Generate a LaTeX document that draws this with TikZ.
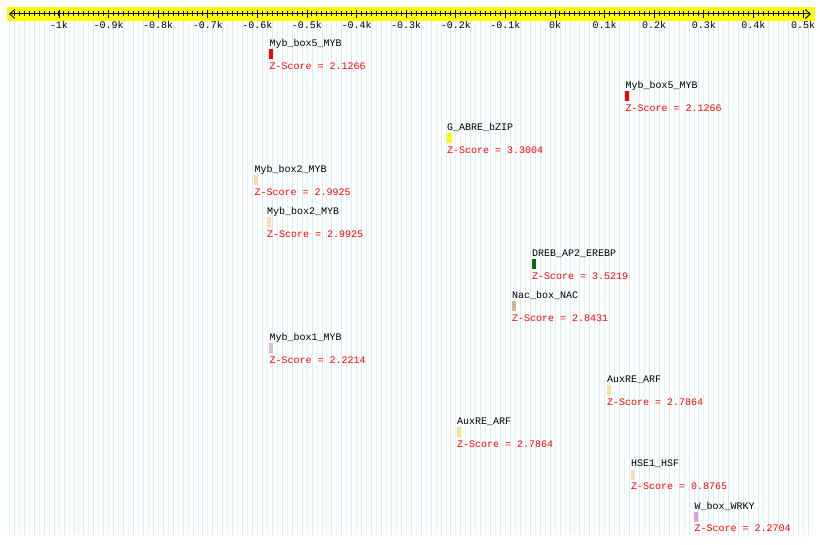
\documentclass[tikz,border=0pt]{standalone}
\usepackage{fontspec}
\setmainfont{Liberation Mono}
\usetikzlibrary{arrows.meta}
\definecolor{axisyellow}{HTML}{FFFF00}
\definecolor{gridA}{HTML}{D8FAFF}
\definecolor{gridB}{HTML}{DCEAF2}
\definecolor{peach}{HTML}{FFDDAA}
\definecolor{tanbar}{HTML}{D2B48C}
\definecolor{thistlebar}{HTML}{D8BFD8}
\definecolor{khakibar}{HTML}{F0E68C}
\definecolor{wheatbar}{HTML}{F5DEB3}
\definecolor{plumbar}{HTML}{DDA0DD}
\definecolor{darkgreenbar}{HTML}{007000}

\begin{document}
\begin{tikzpicture}[x=1pt,y=-1pt,line width=1pt,
  motif/.style={anchor=base west,inner sep=0pt,font=\fontsize{10}{12}\selectfont},
  zscore/.style={motif,text=red},
  ticklab/.style={anchor=base,inner sep=0pt,font=\fontsize{10}{12}\selectfont}]
\useasboundingbox (0,0) rectangle (820,545);
% ================= background grid =================
\foreach \b in {-110,-108,...,50}
  \draw[gridA,line width=0.7pt] ({555+4.96*\b},21) -- ({555+4.96*\b},535);
\foreach \b in {-109,-107,...,51}
  \draw[gridB,line width=0.7pt] ({555+4.96*\b},21) -- ({555+4.96*\b},535);
% ================= position axis =================
\fill[axisyellow] (7,7) rectangle (815,21);
\coordinate (axl) at (9,14);
\coordinate (axr) at (811,14);
\draw[{Straight Barb[length=5pt,width=9pt]}-{Straight Barb[length=5pt,width=9pt]}] (axl) -- (axr);
\foreach \b in {-109,...,50}
  \draw ({555+4.96*\b},11.5) -- ({555+4.96*\b},16.5);
\foreach \m/\lab [count=\k] in {-10/-1k,-9/-0.9k,-8/-0.8k,-7/-0.7k,-6/-0.6k,
    -5/-0.5k,-4/-0.4k,-3/-0.3k,-2/-0.2k,-1/-0.1k,0/0k,1/0.1k,2/0.2k,3/0.3k,4/0.4k,5/0.5k}{
  \draw ({555+49.6*\m},10) -- ({555+49.6*\m},18);
  \node[ticklab] (tick\k) at ({555+49.6*\m},28.5) {\lab};
}
% ================= motifs =================
% Myb_box5_MYB
\node[motif] (n1) at (269,47) {Myb\_box5\_MYB};
\fill[red] (269,49.5) rectangle (273,59.5);
\node[zscore] (z1) at (269,69.5) {Z-Score = 2.1266};
% Myb_box5_MYB
\node[motif] (n2) at (625,89) {Myb\_box5\_MYB};
\fill[red] (625,91.5) rectangle (629,101.5);
\node[zscore] (z2) at (625,111.5) {Z-Score = 2.1266};
% G_ABRE_bZIP
\node[motif] (n3) at (446.5,131) {G\_ABRE\_bZIP};
\fill[axisyellow] (447,133.5) rectangle (451.5,143.5);
\node[zscore] (z3) at (446.5,153.5) {Z-Score = 3.3004};
% Myb_box2_MYB
\node[motif] (n4) at (254,173) {Myb\_box2\_MYB};
\fill[peach] (254,175.5) rectangle (258,185.5);
\node[zscore] (z4) at (254,195.5) {Z-Score = 2.9925};
% Myb_box2_MYB
\node[motif] (n5) at (266.5,215) {Myb\_box2\_MYB};
\fill[peach] (267,217.5) rectangle (271,227.5);
\node[zscore] (z5) at (266.5,237.5) {Z-Score = 2.9925};
% DREB_AP2_EREBP
\node[motif] (n6) at (531.5,257) {DREB\_AP2\_EREBP};
\fill[darkgreenbar] (532,259.5) rectangle (536,269.5);
\node[zscore] (z6) at (531.5,279.5) {Z-Score = 3.5219};
% Nac_box_NAC
\node[motif] (n7) at (511.5,299) {Nac\_box\_NAC};
\fill[tanbar] (512,301.5) rectangle (516,311.5);
\node[zscore] (z7) at (511.5,321.5) {Z-Score = 2.8431};
% Myb_box1_MYB
\node[motif] (n8) at (269,341) {Myb\_box1\_MYB};
\fill[thistlebar] (269,343.5) rectangle (273,353.5);
\node[zscore] (z8) at (269,363.5) {Z-Score = 2.2214};
% AuxRE_ARF
\node[motif] (n9) at (606.5,383) {AuxRE\_ARF};
\fill[khakibar] (607,385.5) rectangle (611,395.5);
\node[zscore] (z9) at (606.5,405.5) {Z-Score = 2.7864};
% AuxRE_ARF
\node[motif] (n10) at (456.5,425) {AuxRE\_ARF};
\fill[khakibar] (457,427.5) rectangle (461,437.5);
\node[zscore] (z10) at (456.5,447.5) {Z-Score = 2.7864};
% HSE1_HSF
\node[motif] (n11) at (630.5,467) {HSE1\_HSF};
\fill[wheatbar] (631,469.5) rectangle (635,479.5);
\node[zscore] (z11) at (630.5,489.5) {Z-Score = 0.8765};
% W_box_WRKY
\node[motif] (n12) at (694,509) {W\_box\_WRKY};
\fill[plumbar] (694,511.5) rectangle (698,521.5);
\node[zscore] (z12) at (694,531.5) {Z-Score = 2.2704};
\end{tikzpicture}
\end{document}
